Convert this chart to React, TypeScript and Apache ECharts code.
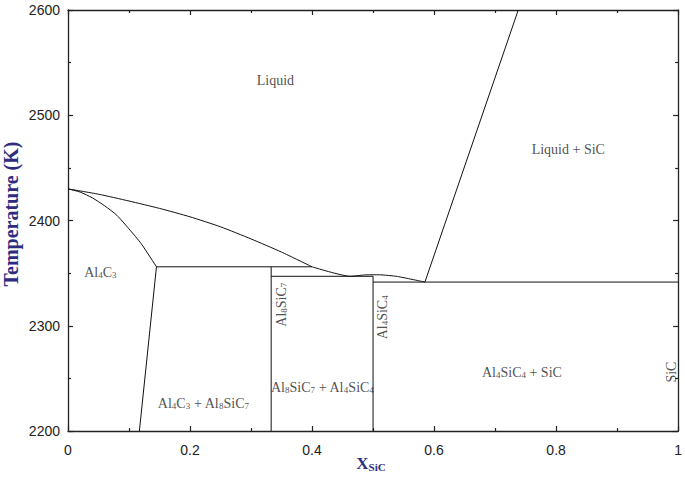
import React, { useEffect, useRef } from "react";
import * as echarts from "echarts";

// Phase boundary curves [X_SiC, T (K)]
const liquidusAl4C3Side: number[][] = [
  [0, 2430], [0.05, 2425], [0.1, 2418.5], [0.15, 2411.5], [0.2, 2403.5],
  [0.25, 2394], [0.3, 2382.5], [0.35, 2370], [0.4, 2356],
];
const liquidusMiddle: number[][] = [
  [0.4, 2356], [0.463, 2347], [0.49, 2348.4], [0.51, 2348.4], [0.54, 2346.8], [0.585, 2341.5],
];
const liquidusAl4C3: number[][] = [
  [0, 2430], [0.02, 2427], [0.04, 2421.5], [0.06, 2414], [0.08, 2405],
  [0.1, 2392], [0.12, 2378], [0.145, 2356],
];
const liquidusSiC: number[][] = [[0.585, 2341.5], [0.738, 2600]];
const solvusAl4C3: number[][] = [[0.145, 2356], [0.117, 2200]];
const peritectic1: number[][] = [[0.145, 2356], [0.4, 2356]];
const peritectic2: number[][] = [[0.333, 2347], [0.5, 2347]];
const eutectic: number[][] = [[0.5, 2341.5], [1, 2341.5]];
const lineAl8SiC7: number[][] = [[0.333, 2356], [0.333, 2200]];
const lineAl4SiC4: number[][] = [[0.5, 2347], [0.5, 2200]];

// Phase region labels
const phaseLabels = [
  { text: "{n|Liquid}", x: 0.34, t: 2534, rot: 0 },
  { text: "{n|Liquid + SiC}", x: 0.82, t: 2468, rot: 0 },
  { text: "{n|Al}{s|4}{n|C}{s|3}", x: 0.053, t: 2352, rot: 0 },
  { text: "{n|Al}{s|8}{n|SiC}{s|7}", x: 0.349, t: 2320, rot: 90 },
  { text: "{n|Al}{s|4}{n|SiC}{s|4}", x: 0.514, t: 2308, rot: 90 },
  { text: "{n|Al}{s|4}{n|C}{s|3}{n| + Al}{s|8}{n|SiC}{s|7}", x: 0.222, t: 2227, rot: 0 },
  { text: "{n|Al}{s|8}{n|SiC}{s|7}{n| + Al}{s|4}{n|SiC}{s|4}", x: 0.417, t: 2242, rot: 0 },
  { text: "{n|Al}{s|4}{n|SiC}{s|4}{n| + SiC}", x: 0.744, t: 2257, rot: 0 },
  { text: "{n|SiC}", x: 0.987, t: 2256, rot: 90 },
];

const xMin = 0, xMax = 1, xStep = 0.2;
const yMin = 2200, yMax = 2600, yStep = 100;

export default function App() {
  const ref = useRef<HTMLDivElement>(null);
  useEffect(() => {
    if (!ref.current) return;
    const chart = echarts.init(ref.current, undefined, { renderer: "svg" });
    const lineStyle = { color: "#111", width: 1 };
    const mkLine = (data: number[][], smooth: number | boolean = false) => ({
      type: "line",
      data,
      smooth,
      showSymbol: false,
      symbol: "none",
      lineStyle,
      silent: true,
      xAxisIndex: 0,
      yAxisIndex: 0,
    });
    const rich = {
      n: { fontFamily: "Liberation Serif", fontSize: 14, color: "#222", lineHeight: 16, verticalAlign: "bottom" },
      s: { fontFamily: "Liberation Serif", fontSize: 9, color: "#222", lineHeight: 9, verticalAlign: "bottom" },
    };
    const axisLine = { show: true, onZero: false, lineStyle: { color: "#222", width: 1.3 } };
    const tick = { show: true, inside: true, length: 5, lineStyle: { color: "#222", width: 1.2 } };
    const minor = { show: true, splitNumber: 2, length: 3, lineStyle: { color: "#222", width: 1.2 } };
    const labelFont = { fontFamily: "Liberation Sans", fontSize: 14, color: "#222" };
    const fmt = (v: number) => String(v);
    chart.setOption({
      animation: false,
      backgroundColor: "#fff",
      grid: { left: 68, right: 4, top: 10, bottom: 46, containLabel: false },
      xAxis: [
        {
          type: "value", min: xMin, max: xMax, interval: xStep, position: "bottom",
          axisLine, axisTick: tick, minorTick: minor, splitLine: { show: false },
          axisLabel: { ...labelFont, margin: 12, formatter: fmt },
        },
        {
          type: "value", min: xMin, max: xMax, interval: xStep, position: "top",
          axisLine, axisTick: tick, minorTick: minor, splitLine: { show: false },
          axisLabel: { show: false },
        },
      ],
      yAxis: [
        {
          type: "value", min: yMin, max: yMax, interval: yStep, position: "left",
          axisLine, axisTick: tick, minorTick: minor, splitLine: { show: false },
          axisLabel: { ...labelFont, margin: 8, formatter: fmt },
        },
        {
          type: "value", min: yMin, max: yMax, interval: yStep, position: "right",
          axisLine, axisTick: tick, minorTick: minor, splitLine: { show: false },
          axisLabel: { show: false },
        },
      ],
      series: [
        mkLine(liquidusAl4C3Side, 0.2),
        mkLine(liquidusMiddle, 0.2),
        mkLine(liquidusAl4C3, 0.2),
        mkLine(liquidusSiC),
        mkLine(solvusAl4C3),
        mkLine(peritectic1),
        mkLine(peritectic2),
        mkLine(eutectic),
        mkLine(lineAl8SiC7),
        mkLine(lineAl4SiC4),
        {
          type: "scatter",
          symbolSize: 0,
          silent: true,
          data: phaseLabels.map((p) => ({
            value: [p.x, p.t],
            label: {
              show: true,
              position: "inside",
              rotate: p.rot,
              formatter: p.text,
              rich,
            },
          })),
        },
      ],
      graphic: [
        {
          type: "text",
          x: 11,
          y: 214,
          rotation: Math.PI / 2,
          style: {
            text: "Temperature (K)",
            fontFamily: "Liberation Serif",
            fontWeight: "bold",
            fontSize: 20,
            fill: "#2e2c80",
            textAlign: "center",
            textVerticalAlign: "middle",
          },
        },
        {
          type: "text",
          x: 371,
          y: 463,
          style: {
            text: "{x|X}{s|SiC}",
            textAlign: "center",
            textVerticalAlign: "middle",
            rich: {
              x: { fontFamily: "Liberation Serif", fontWeight: "bold", fontSize: 17, fill: "#2e2c80", lineHeight: 18, verticalAlign: "bottom" },
              s: { fontFamily: "Liberation Serif", fontWeight: "bold", fontSize: 11, fill: "#2e2c80", lineHeight: 11, verticalAlign: "bottom" },
            },
          },
        },
      ],
    });
    return () => chart.dispose();
  }, []);
  return (
    <div
      ref={ref}
      style={{ position: "absolute", left: 0, top: 0, width: 685, height: 477 }}
    />
  );
}
